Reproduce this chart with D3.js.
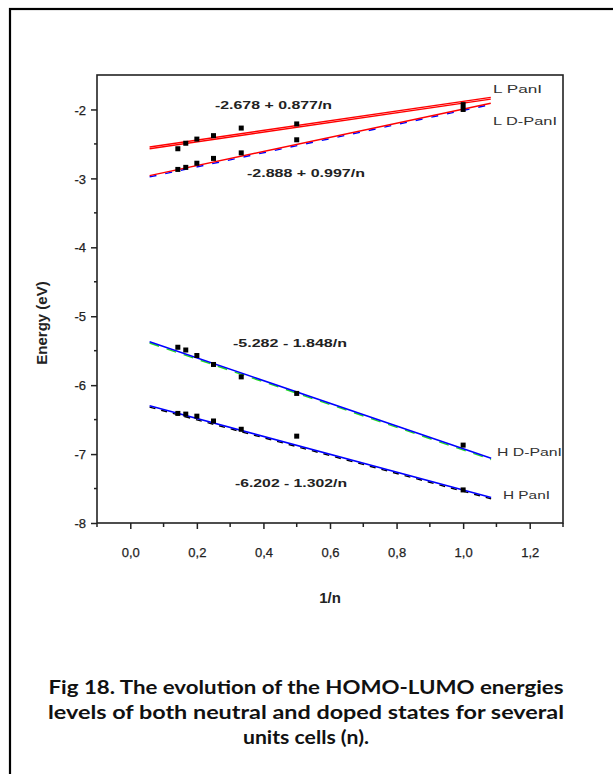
<!DOCTYPE html>
<html><head><meta charset="utf-8">
<script src="https://cdn.jsdelivr.net/npm/d3@7"></script>
<style>body{margin:0;background:#fff}svg{display:block}</style>
</head><body>
<svg id="c" width="613" height="774"></svg>
<script>
// ---- data ----
const invN = [1/7, 1/6, 1/5, 1/4, 1/3, 1/2, 1];
const lPani  = [-2.57, -2.49, -2.43, -2.38, -2.27, -2.21, -1.93];
const ldPani = [-2.87, -2.84, -2.78, -2.71, -2.63, -2.44, -2.00];
const hdPani = [-5.45, -5.49, -5.57, -5.70, -5.88, -6.12, -6.87];
const hPani  = [-6.41, -6.42, -6.45, -6.52, -6.64, -6.74, -7.52];
// fitted lines as drawn: [x0, y0, x1, y1]
const fitL  = [0.058, -2.57, 1.083, -1.85];
const fitLD = [0.058, -2.96, 1.083, -1.91];
const fitHD = [0.058, -5.37, 1.084, -7.06];
const fitH  = [0.058, -6.30, 1.084, -7.63];
const eqLabels = ["-2.678 + 0.877/n", "-2.888 + 0.997/n", "-5.282 - 1.848/n", "-6.202 - 1.302/n"];
const seriesNames = ["L PanI", "L D-PanI", "H D-PanI", "H PanI"];
const xTicks = [0.0, 0.2, 0.4, 0.6, 0.8, 1.0, 1.2];
const yTicks = [-2, -3, -4, -5, -6, -7, -8];
const caption = ["Fig 18. The evolution of the HOMO-LUMO energies",
                 "levels of both neutral and doped states for several",
                 "units cells (n)."];

const svg = d3.select("#c");
// outer frame
svg.append("rect").attr("x",10).attr("y",9).attr("width",640).attr("height",800)
  .attr("fill","none").attr("stroke","#000").attr("stroke-width",2.2);

const L=97,R=563,T=75,B=523;
const x = d3.scaleLinear().domain([-0.1,1.3]).range([L,R]);
const y = d3.scaleLinear().domain([-8,-1.5]).range([B,T]);

const lineG = d3.line().x(d=>x(d[0])).y(d=>y(d[1]));
const fitPts = f => [[f[0],f[1]],[f[2],f[3]]];
// underlying secondary strokes (offset) that peek through the fit lines
const under = [[fitL,"#ff0000",-1.8,"none"],[fitLD,"#0000ff",1.3,"7,9"],[fitHD,"#22dd22",1.3,"10,8"],[fitH,"#000000",1.3,"6,6"]];
under.forEach(([f,col,dy,dash])=>{
  svg.append("path").attr("d",lineG(fitPts(f))).attr("transform",`translate(0,${dy})`)
    .attr("fill","none").attr("stroke",col).attr("stroke-width",1.4).attr("stroke-dasharray",dash);
});
// fit lines
const fits = [[fitL,"#ff0000"],[fitLD,"#ff0000"],[fitHD,"#0000ff"],[fitH,"#0000ff"]];
fits.forEach(([f,col])=>{
  svg.append("path").attr("d",lineG(fitPts(f)))
    .attr("fill","none").attr("stroke",col).attr("stroke-width",1.5);
});
// markers
[lPani,ldPani,hdPani,hPani].forEach(arr=>{
  svg.append("g").selectAll("rect").data(invN.map((v,i)=>[v,arr[i]])).join("rect")
    .attr("x",d=>x(d[0])-2.5).attr("y",d=>y(d[1])-2.5).attr("width",5).attr("height",5)
    .attr("fill","#000");
});

// frame of plot
svg.append("rect").attr("x",L).attr("y",T).attr("width",R-L).attr("height",B-T)
  .attr("fill","none").attr("stroke","#222").attr("stroke-width",1.6);

// axes
const xAxis = d3.axisBottom(x).tickValues(xTicks).tickSize(6).tickFormat(d=>d3.format(".1f")(d).replace(".",","));
const gx = svg.append("g").attr("transform",`translate(0,${B})`).call(xAxis);
const xMinor = d3.range(-0.1,1.31,0.1).filter(v=>Math.abs(Math.round(v*10)%2)===1);
gx.selectAll(".minor").data(xMinor).join("line").attr("class","minor")
  .attr("x1",d=>x(d)).attr("x2",d=>x(d)).attr("y1",0).attr("y2",4).attr("stroke","#222").attr("stroke-width",1.5);
const yAxis = d3.axisLeft(y).tickValues(yTicks).tickSize(6).tickFormat(d=>String(d));
const gy = svg.append("g").attr("transform",`translate(${L},0)`).call(yAxis);
const yMinor = [-2.5,-3.5,-4.5,-5.5,-6.5,-7.5];
gy.selectAll(".minor").data(yMinor).join("line").attr("class","minor")
  .attr("x1",0).attr("x2",-3).attr("y1",d=>y(d)).attr("y2",d=>y(d)).attr("stroke","#222").attr("stroke-width",1.5);
[gx,gy].forEach(g=>{
  g.select(".domain").remove();
  g.selectAll(".tick line").attr("stroke","#222").attr("stroke-width",1.5);
  g.selectAll(".tick text").attr("font-family","Liberation Sans, Arial, sans-serif")
    .attr("font-size",13).attr("fill","#222").attr("stroke","#222").attr("stroke-width",0.25);
});
gx.selectAll(".tick text").attr("y",34).attr("dy",0);
gy.selectAll(".tick text").attr("x",-11).attr("dy","0.36em");

// axis titles
svg.append("text").attr("x",330).attr("y",603).attr("text-anchor","middle")
  .attr("font-family","Liberation Sans, Arial, sans-serif").attr("font-weight","bold")
  .attr("font-size",15).attr("fill","#222").text("1/n");
svg.append("text").attr("transform","translate(47,323) rotate(-90)").attr("text-anchor","middle")
  .attr("font-family","Liberation Sans, Arial, sans-serif").attr("font-weight","bold")
  .attr("font-size",15).attr("fill","#222").text("Energy (eV)");

// equation labels
const eqPos = [[215,109,117],[247,177,118],[233,347,114],[235,487,112]];
eqLabels.forEach((t,i)=>{
  svg.append("text").attr("x",eqPos[i][0]).attr("y",eqPos[i][1])
    .attr("textLength",eqPos[i][2]).attr("lengthAdjust","spacingAndGlyphs")
    .attr("font-family","Liberation Sans, Arial, sans-serif").attr("font-weight","bold")
    .attr("font-size",11.5).attr("fill","#222").text(t);
});
// series name labels
const nmPos = [[493,93,49],[493,125,64],[497,456,65],[503,499,47]];
seriesNames.forEach((t,i)=>{
  svg.append("text").attr("x",nmPos[i][0]).attr("y",nmPos[i][1])
    .attr("textLength",nmPos[i][2]).attr("lengthAdjust","spacingAndGlyphs")
    .attr("font-family","Liberation Sans, Arial, sans-serif")
    .attr("font-size",11.5).attr("fill","#333").text(t);
});

// caption
const capY=[694,719,744];
const capW=[515,516,126];
caption.forEach((t,i)=>{
  svg.append("text").attr("x",306).attr("y",capY[i]).attr("text-anchor","middle")
    .attr("font-family","Lato, 'Open Sans', sans-serif").attr("font-weight","bold")
    .attr("font-size",19).attr("fill","#111")
    .attr("textLength",capW[i]).attr("lengthAdjust","spacingAndGlyphs").text(t);
});
</script>
</body></html>
